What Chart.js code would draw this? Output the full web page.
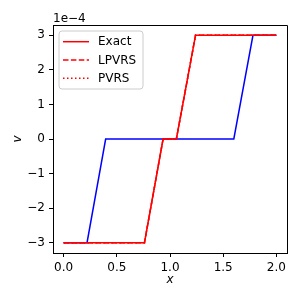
<!DOCTYPE html>
<html>
<head>
<meta charset="utf-8">
<script src="https://cdn.jsdelivr.net/npm/chart.js@4/dist/chart.umd.min.js"></script>
<style>
html,body{margin:0;padding:0;background:#fff;}
#wrap{width:300px;height:300px;}
</style>
</head>
<body>
<div id="wrap"><canvas id="c" width="300" height="300"></canvas></div>
<script>
// ---- data (v in real units; axis shows in units of 1e-4) ----
const xTicks = [0.0, 0.5, 1.0, 1.5, 2.0];
const vTicks = [-3, -2, -1, 0, 1, 2, 3];
const vExponent = -4;

const blueX = [0.0, 0.22, 0.395, 1.60, 1.78, 2.0];
const blueV = [-3e-4, -3e-4, 0, 0, 3e-4, 3e-4];

const exactX = [0.0, 0.76, 0.935, 1.06, 1.24, 2.0];
const exactV = [-3e-4, -3e-4, 0, 0, 3e-4, 3e-4];

const lpvrsX = [0.0, 0.76, 0.935, 1.06, 1.24, 2.0];
const lpvrsV = [-3e-4, -3e-4, 0, 0, 3e-4, 3e-4];

const pvrsX = [0.0, 0.76, 0.935, 1.06, 1.24, 2.0];
const pvrsV = [-3e-4, -3e-4, 0, 0, 3e-4, 3e-4];

const seriesLabels = ['Exact', 'LPVRS', 'PVRS'];

function pts(xs, vs){ return xs.map((x,i)=>({x:x, y:vs[i]})); }

const FONT = 'DejaVu Sans';
const scaleFactor = Math.pow(10, vExponent);

const framePlugin = {
  id: 'frame',
  afterDatasetsDraw(chart){
    const {ctx, chartArea:a} = chart;
    ctx.save();
    ctx.strokeStyle = '#000';
    ctx.lineWidth = 1;
    ctx.beginPath();
    ctx.moveTo(a.left, a.top + 0.5);
    ctx.lineTo(a.right + 0.5, a.top + 0.5);
    ctx.lineTo(a.right + 0.5, a.bottom);
    ctx.stroke();
    ctx.restore();
  },
  afterDraw(chart){
    const {ctx, chartArea:a} = chart;
    ctx.save();
    ctx.fillStyle = '#000';
    // offset text
    ctx.font = '12px ' + FONT;
    ctx.textAlign = 'left';
    ctx.textBaseline = 'alphabetic';
    ctx.fillText('1e\u2212' + Math.abs(vExponent), a.left, a.top - 3);
    // axis titles
    ctx.font = 'italic 12px ' + FONT;
    ctx.textAlign = 'center';
    ctx.textBaseline = 'middle';
    ctx.fillText('x', (a.left + a.right) / 2, 279.5);
    ctx.save();
    ctx.translate(18, (a.top + a.bottom) / 2);
    ctx.rotate(-Math.PI / 2);
    ctx.fillText('v', 0, 0);
    ctx.restore();
    // legend
    const lx = a.left + 6, ly = a.top + 6, lw = 84, lh = 58, r = 3;
    ctx.beginPath();
    ctx.moveTo(lx + r, ly);
    ctx.arcTo(lx + lw, ly, lx + lw, ly + lh, r);
    ctx.arcTo(lx + lw, ly + lh, lx, ly + lh, r);
    ctx.arcTo(lx, ly + lh, lx, ly, r);
    ctx.arcTo(lx, ly, lx + lw, ly, r);
    ctx.closePath();
    ctx.fillStyle = 'rgba(255,255,255,0.8)';
    ctx.fill();
    ctx.strokeStyle = '#cccccc';
    ctx.lineWidth = 1;
    ctx.stroke();
    const items = chart.data.datasets.filter(d => d.label);
    items.forEach((d, i) => {
      const yy = ly + 10.7 + i * 18.3;
      ctx.save();
      ctx.strokeStyle = d.borderColor;
      ctx.lineWidth = d.borderWidth;
      ctx.setLineDash(d.borderDash || []);
      ctx.beginPath();
      ctx.moveTo(lx + 4, yy);
      ctx.lineTo(lx + 30, yy);
      ctx.stroke();
      ctx.restore();
      ctx.fillStyle = '#000';
      ctx.font = '12px ' + FONT;
      ctx.textAlign = 'left';
      ctx.textBaseline = 'middle';
      ctx.fillText(d.label, lx + 39, yy + 0.5);
    });
    ctx.restore();
  }
};

new Chart(document.getElementById('c'), {
  type: 'line',
  data: {
    datasets: [
      {data: pts(blueX, blueV), borderColor: '#0000ff', borderWidth: 1.5, order: 4},
      {label: seriesLabels[0], data: pts(exactX, exactV), borderColor: '#ff0000', borderWidth: 1.5, order: 3},
      {label: seriesLabels[1], data: pts(lpvrsX, lpvrsV), borderColor: '#ff0000', borderWidth: 1.5, borderDash: [5.5, 2.4], order: 2},
      {label: seriesLabels[2], data: pts(pvrsX, pvrsV), borderColor: '#ff0000', borderWidth: 1.5, borderDash: [1.5, 2.5], order: 1}
    ]
  },
  options: {
    responsive: false,
    animation: false,
    devicePixelRatio: 1,
    parsing: true,
    elements: {point: {radius: 0}, line: {tension: 0, fill: false, borderCapStyle: 'butt'}},
    layout: {padding: {left: 0, right: 13, top: 25, bottom: 0}},
    plugins: {legend: {display: false}, tooltip: {enabled: false}},
    scales: {
      x: {
        type: 'linear',
        min: -0.1, max: 2.1,
        afterFit(s){ s.height = 47; },
        afterBuildTicks(s){ s.ticks = xTicks.map(v => ({value: v})); },
        grid: {drawOnChartArea: false, drawTicks: true, tickLength: 4, tickColor: '#000', tickWidth: 1},
        border: {display: true, color: '#000', width: 1},
        ticks: {color: '#000', font: {family: FONT, size: 12}, padding: 4, maxRotation: 0,
          callback: v => v.toFixed(1)}
      },
      y: {
        type: 'linear',
        min: -3.3e-4, max: 3.3e-4,
        afterFit(s){ s.width = 53; },
        afterBuildTicks(s){ s.ticks = vTicks.map(v => ({value: v * scaleFactor})); },
        grid: {drawOnChartArea: false, drawTicks: true, tickLength: 4, tickColor: '#000', tickWidth: 1},
        border: {display: true, color: '#000', width: 1},
        ticks: {color: '#000', font: {family: FONT, size: 12}, padding: 4,
          callback: v => { const n = Math.round(v / scaleFactor); return n < 0 ? '\u2212' + Math.abs(n) : String(n); }}
      }
    }
  },
  plugins: [framePlugin]
});
</script>
</body>
</html>
